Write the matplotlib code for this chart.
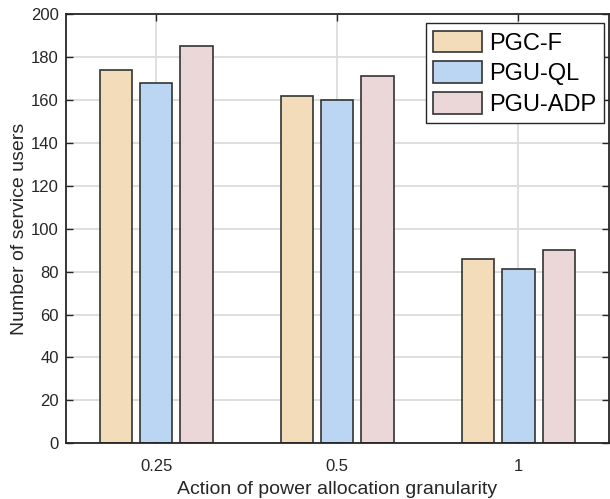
import numpy as np
import matplotlib.pyplot as plt

plt.rcParams['font.family'] = ['Liberation Sans', 'DejaVu Sans']

# granularities on the x axis
categorias = ['0.25', '0.5', '1']
series = ['PGC-F', 'PGU-QL', 'PGU-ADP']
pgc_f = [174, 162, 86]
pgu_ql = [168, 160, 81]
pgu_adp = [185, 171, 90]
cores = ['#F2DCBA', '#BBD6F2', '#EBD6D8']

valores = [pgc_f, pgu_ql, pgu_adp]
x = np.arange(1, len(categorias) + 1)

fig = plt.figure(figsize=(6.1, 4.99), dpi=100)
ax = fig.add_axes([0.1077, 0.1116, 0.8907, 0.8603])

passo = 0.2222
largura = 0.178
for i, (nome, v) in enumerate(zip(series, valores)):
    ax.bar(x + (i - 1) * passo, v, largura, color=cores[i], edgecolor='#333333',
           linewidth=1.2, label=nome, zorder=3)

ax.set_xlim(0.5, 3.5)
ax.set_ylim(0, 200)
ax.set_xticks(x)
ax.set_xticklabels(categorias)
ax.set_yticks(np.arange(0, 201, 20))
ax.grid(True, color='#DCDCDC', linewidth=1.3, zorder=0)
ax.tick_params(direction='in', length=5, width=1, top=True, right=True,
               labelsize=12, colors='#262626')
ax.tick_params(axis='x', pad=11)
ax.tick_params(axis='y', pad=5)
for s in ax.spines.values():
    s.set_linewidth(1.3)
    s.set_color('#262626')
    s.set_zorder(5)

ax.set_xlabel('Action of power allocation granularity', fontsize=14, color='#262626', labelpad=5)
ax.set_ylabel('Number of service users', fontsize=14, color='#262626', labelpad=2)

leg = ax.legend(loc='upper right', fontsize=17, frameon=True, fancybox=False,
                edgecolor='#262626', framealpha=1, handlelength=2.1, handleheight=1.05,
                borderpad=0.3, labelspacing=0.28, handletextpad=0.3,
                bbox_to_anchor=(0.99, 0.978), borderaxespad=0)
leg.get_frame().set_linewidth(1.0)

fig.savefig('out.png', dpi=100)
plt.close()
